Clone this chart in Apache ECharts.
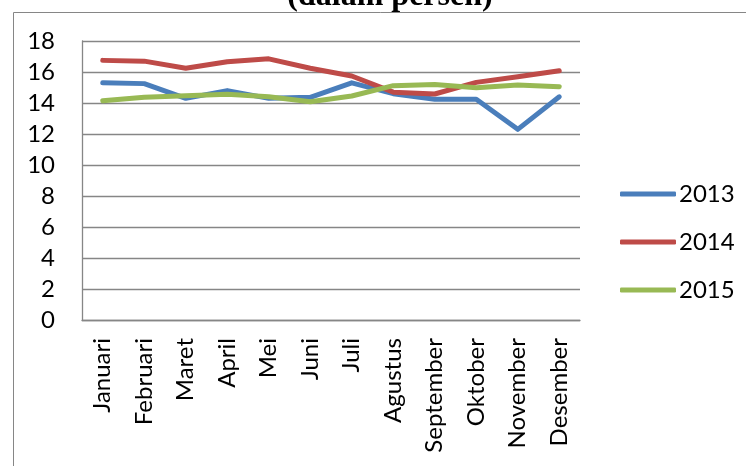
<!DOCTYPE html>
<html>
<head>
<meta charset="utf-8">
<script src="https://cdn.jsdelivr.net/npm/echarts@6/dist/echarts.min.js"></script>
<style>
  html, body { margin: 0; padding: 0; background: #fff; }
  #chart { width: 746px; height: 466px; }
</style>
</head>
<body>
<div id="chart"></div>
<script>
// Monthly rates (percent), 2013-2015
const months = ['Januari', 'Februari', 'Maret', 'April', 'Mei', 'Juni',
  'Juli', 'Agustus', 'September', 'Oktober', 'November', 'Desember'];
const years = ['2013', '2014', '2015'];
const values2013 = [15.3, 15.25, 14.3, 14.8, 14.3, 14.37, 15.3, 14.6, 14.24, 14.24, 12.3, 14.4];
const values2014 = [16.75, 16.7, 16.24, 16.66, 16.85, 16.24, 15.74, 14.7, 14.58, 15.33, 15.7, 16.08];
const values2015 = [14.15, 14.37, 14.47, 14.56, 14.4, 14.08, 14.45, 15.12, 15.2, 14.99, 15.16, 15.05];
const yTicks = { min: 0, max: 18, step: 2 };

const colors = ['#4a7ebb', '#be4b48', '#98b954'];
const font = 'Lato, "Open Sans", sans-serif';
const gridColor = '#868686';

function lineSeries(name, data, color) {
  return {
    name: name,
    type: 'line',
    data: data,
    symbol: 'none',
    smooth: false,
    lineStyle: { color: color, width: 5, cap: 'round', join: 'round' },
    itemStyle: { color: color },
    emphasis: { disabled: true }
  };
}

const chart = echarts.init(document.getElementById('chart'), null, { renderer: 'canvas' });
chart.setOption({
  animation: false,
  backgroundColor: '#fff',
  graphic: [
    {
      type: 'text',
      z: -2,
      style: {
        text: '(dalam persen)',
        x: 390, y: -3,
        textAlign: 'center',
        textVerticalAlign: 'middle',
        font: 'bold 32px "Liberation Serif", "Times New Roman", serif',
        fill: '#000'
      }
    },
    {
      type: 'rect',
      z: -1,
      shape: { x: 13.5, y: 12.5, width: 800, height: 500 },
      style: { fill: '#fff', stroke: gridColor, lineWidth: 1 }
    }
  ],
  grid: { left: 82, top: 41, right: 166, bottom: 146, containLabel: false },
  legend: {
    orient: 'vertical',
    left: 620,
    top: 182,
    padding: 0,
    icon: 'roundRect',
    itemWidth: 56,
    itemHeight: 5,
    itemGap: 24,
    data: years,
    textStyle: { fontFamily: font, fontSize: 24, color: '#000', padding: [0, 0, 0, -2] }
  },
  xAxis: {
    type: 'category',
    data: months,
    boundaryGap: true,
    axisLine: { show: true, lineStyle: { color: gridColor, width: 1.3 } },
    axisTick: { show: false },
    axisLabel: {
      rotate: 90,
      margin: 18,
      interval: 0,
      color: '#000',
      fontFamily: font,
      fontSize: 24
    }
  },
  yAxis: {
    type: 'value',
    min: yTicks.min,
    max: yTicks.max,
    interval: yTicks.step,
    axisLine: { show: true, lineStyle: { color: gridColor, width: 1.3 } },
    axisTick: { show: false },
    splitLine: { show: true, lineStyle: { color: gridColor, width: 1.3 } },
    axisLabel: {
      margin: 27,
      color: '#000',
      fontFamily: font,
      fontSize: 24
    }
  },
  series: [
    lineSeries(years[0], values2013, colors[0]),
    lineSeries(years[1], values2014, colors[1]),
    lineSeries(years[2], values2015, colors[2])
  ]
});
</script>
</body>
</html>
